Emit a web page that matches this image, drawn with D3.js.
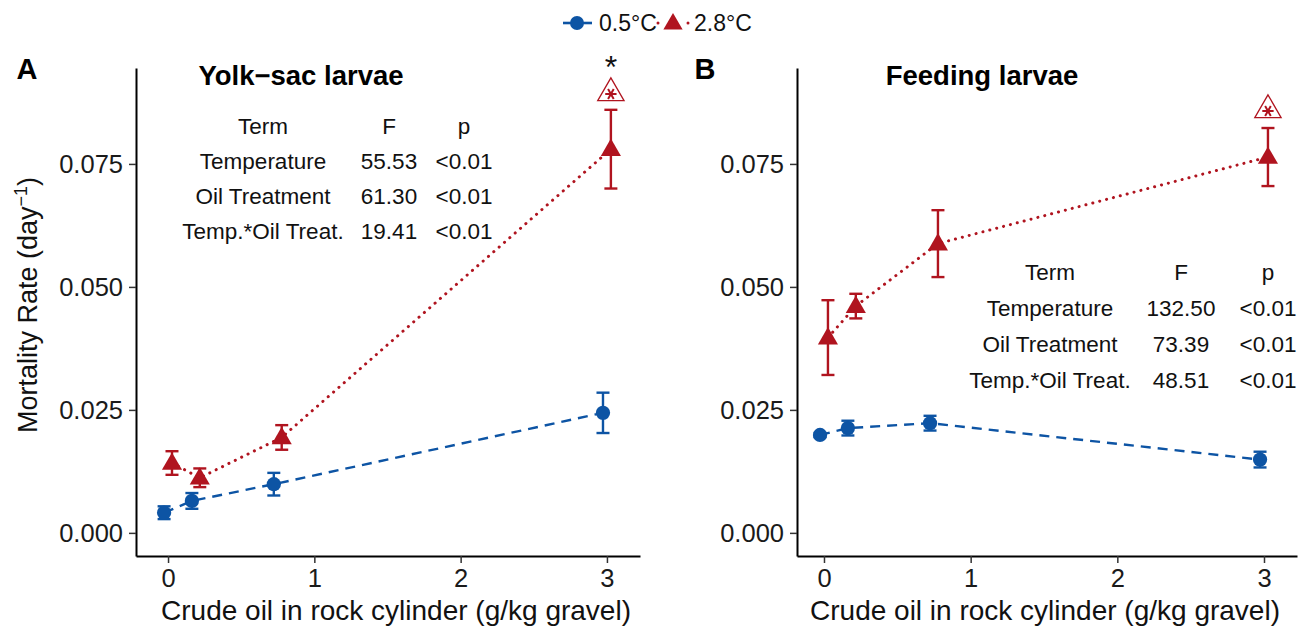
<!DOCTYPE html>
<html><head><meta charset="utf-8">
<script src="https://cdn.jsdelivr.net/npm/d3@7"></script>
<style>body{margin:0;background:#fff}svg{font-family:"Liberation Sans",Arial,sans-serif}</style>
</head><body><svg id="c" width="1308" height="627"></svg>
<script>
const doses = [0, 0.19, 0.75, 3];
const seriesNames = ["0.5°C", "2.8°C"];
// Panel A: Yolk-sac larvae
const yolkCold = [0.0041, 0.0065, 0.0099, 0.0244];
const yolkColdErr = [0.0013, 0.0016, 0.0023, 0.0041];
const yolkWarm = [0.0142, 0.0112, 0.0194, 0.0780];
const yolkWarmErr = [0.0024, 0.0019, 0.0025, 0.0080];
// Panel B: Feeding larvae
const feedCold = [0.0199, 0.0213, 0.0223, 0.0149];
const feedColdErr = [0.0004, 0.0015, 0.0015, 0.0016];
const feedWarm = [0.0397, 0.0461, 0.0588, 0.0764];
const feedWarmErr = [0.0076, 0.0025, 0.0068, 0.0059];
const yTicks = [0, 0.025, 0.05, 0.075];
const yTickLabels = ["0.000", "0.025", "0.050", "0.075"];
const xTicks = [0, 1, 2, 3];
const tableHeader = ["Term", "F", "p"];
const termNames = ["Temperature", "Oil Treatment", "Temp.*Oil Treat."];
const yolkF = ["55.53", "61.30", "19.41"];
const feedF = ["132.50", "73.39", "48.51"];
const pVals = ["<0.01", "<0.01", "<0.01"];

const BLUE = "#0d54a4", RED = "#b0141f";
const FONT = "Liberation Sans, Arial, sans-serif";
const svg = d3.select("#c");
const dodge = 0.027;

function panel(o) {
  const x = d3.scaleLinear().domain(o.xdom).range([o.left, o.right]);
  const y = d3.scaleLinear().domain([-0.0047, 0.0945]).range([556, 68]);
  const g = svg.append("g");
  const ya = g.append("g").attr("transform", `translate(${o.left},0)`)
    .call(d3.axisLeft(y).tickValues(yTicks).tickFormat((d, i) => yTickLabels[i]).tickSize(7).tickPadding(6).tickSizeOuter(0));
  const xa = g.append("g").attr("transform", `translate(0,556)`)
    .call(d3.axisBottom(x).tickValues(xTicks).tickFormat(d3.format("d")).tickSize(7).tickPadding(6).tickSizeOuter(0));
  [ya, xa].forEach(a => {
    a.select(".domain").attr("stroke", "#000").attr("stroke-width", 2);
    a.selectAll(".tick line").attr("stroke", "#333").attr("stroke-width", 1.5);
    a.selectAll("text").attr("font-size", 25.5).attr("fill", "#1a1a1a").attr("font-family", FONT);
  });
  g.append("text").attr("x", o.xTitleX).attr("y", 620).attr("text-anchor", "middle")
    .attr("font-size", 28).attr("fill", "#111").text("Crude oil in rock cylinder (g/kg gravel)");
  g.append("text").attr("x", o.titleX).attr("y", 85).attr("text-anchor", "middle")
    .attr("font-size", 27.5).attr("font-weight", "bold").text(o.title);
  g.append("text").attr("x", o.tagX).attr("y", 79).attr("text-anchor", "middle")
    .attr("font-size", 29).attr("font-weight", "bold").text(o.tag);

  const series = [
    {vals: o.cold, err: o.coldErr, col: BLUE, dx: -dodge, dash: "10,7", shape: "c"},
    {vals: o.warm, err: o.warmErr, col: RED, dx: dodge, dash: "0.1,7", shape: "t"}
  ];
  series.forEach(s => {
    const pts = doses.map((d, i) => ({x: d + s.dx, y: s.vals[i], e: s.err[i]}));
    g.append("path").attr("d", d3.line().x(d => x(d.x)).y(d => y(d.y))(pts))
      .attr("fill", "none").attr("stroke", s.col).attr("stroke-width", s.shape === "t" ? 3 : 2.4)
      .attr("stroke-dasharray", s.dash).attr("stroke-linecap", s.shape === "t" ? "round" : "butt");
    pts.forEach(p => {
      const cx = x(p.x);
      g.append("line").attr("x1", cx).attr("x2", cx).attr("y1", y(p.y - p.e)).attr("y2", y(p.y + p.e))
        .attr("stroke", s.col).attr("stroke-width", 2.4);
      [p.y - p.e, p.y + p.e].forEach(v => g.append("line").attr("x1", cx - 6.5).attr("x2", cx + 6.5)
        .attr("y1", y(v)).attr("y2", y(v)).attr("stroke", s.col).attr("stroke-width", 2.4));
      const sym = s.shape === "c" ? d3.symbol(d3.symbolCircle, 160) : d3.symbol(d3.symbolTriangle, 175);
      g.append("path").attr("d", sym()).attr("transform", `translate(${cx},${y(p.y) + (s.shape === "t" ? 1 : 0)})`)
        .attr("fill", s.col);
    });
  });
  // open triangle with asterisk above last warm point
  const tx = x(3 + dodge), ty = o.markY;
  g.append("path").attr("d", d3.symbol(d3.symbolTriangle, 300)()).attr("transform", `translate(${tx},${ty})`)
    .attr("fill", "none").attr("stroke", RED).attr("stroke-width", 1.3);
  g.append("path").attr("d", d3.symbol(d3.symbolAsterisk, 90)()).attr("transform", `translate(${tx},${ty + 1}) rotate(90)`)
    .attr("fill", "none").attr("stroke", RED).attr("stroke-width", 2);
  if (o.blackStar) g.append("text").attr("x", tx).attr("y", 78).attr("text-anchor", "middle")
    .attr("font-size", 32).attr("fill", "#111").text("*");

  // table
  const cols = o.tableCols;
  const rows = [tableHeader].concat(termNames.map((t, i) => [t, o.F[i], pVals[i]]));
  rows.forEach((r, ri) => r.forEach((c, ci) => g.append("text").attr("x", cols[ci])
    .attr("y", o.tableY + ri * o.rowH).attr("text-anchor", "middle").attr("font-size", 22.5)
    .attr("fill", "#111").text(c)));
}

panel({left: 136, right: 640, xdom: [-0.219, 3.226], cold: yolkCold, coldErr: yolkColdErr,
  warm: yolkWarm, warmErr: yolkWarmErr, title: "Yolk\u2212sac larvae", titleX: 301, tag: "A", tagX: 27,
  markY: 93, blackStar: true, tableCols: [263, 389, 464], tableY: 134, rowH: 35, F: yolkF, xTitleX: 396});
panel({left: 797, right: 1297, xdom: [-0.184, 3.225], cold: feedCold, coldErr: feedColdErr,
  warm: feedWarm, warmErr: feedWarmErr, title: "Feeding larvae", titleX: 982, tag: "B", tagX: 705,
  markY: 110, blackStar: false, tableCols: [1050, 1181, 1268], tableY: 280, rowH: 36, F: feedF, xTitleX: 1045});

// y-axis title
svg.append("text").attr("transform", "translate(37,305) rotate(-90)").attr("text-anchor", "middle")
  .attr("font-size", 27).attr("fill", "#111")
  .html('Mortality Rate (day<tspan dy="-10" font-size="18">\u22121</tspan><tspan dy="10">)</tspan>');

// legend
const lg = svg.append("g");
lg.append("line").attr("x1", 563).attr("x2", 592).attr("y1", 23).attr("y2", 23).attr("stroke", BLUE).attr("stroke-width", 2.6);
lg.append("circle").attr("cx", 577).attr("cy", 23).attr("r", 7).attr("fill", BLUE);
lg.append("text").attr("x", 599).attr("y", 31).attr("font-size", 23).attr("fill", "#111").text(seriesNames[0]);
lg.append("circle").attr("cx", 658).attr("cy", 23).attr("r", 1.5).attr("fill", RED);
lg.append("circle").attr("cx", 688).attr("cy", 23).attr("r", 1.5).attr("fill", RED);
lg.append("path").attr("d", d3.symbol(d3.symbolTriangle, 160)()).attr("transform", "translate(673,24)").attr("fill", RED);
lg.append("text").attr("x", 694).attr("y", 31).attr("font-size", 23).attr("fill", "#111").text(seriesNames[1]);
</script></body></html>
